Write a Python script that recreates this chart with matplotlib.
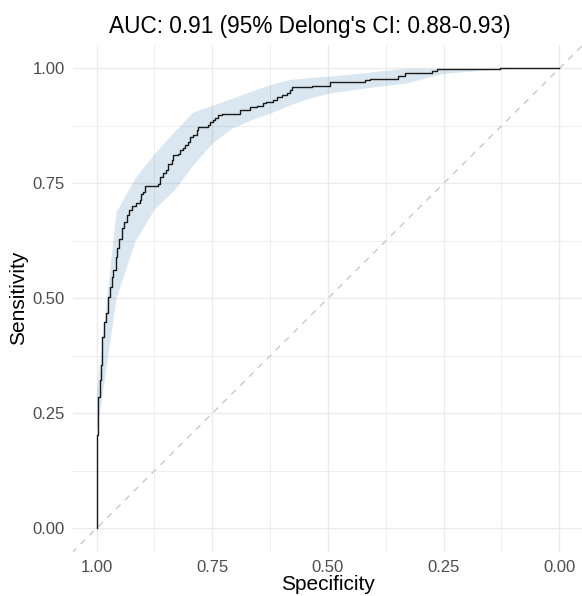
import matplotlib
matplotlib.use("Agg")
import matplotlib.pyplot as plt
import numpy as np

plt.rcParams['font.family'] = ['Liberation Sans', 'DejaVu Sans']

# ROC curve (step corners): specificity, sensitivity
spec = [1.0, 1.0, 0.9965, 0.9935, 0.9907, 0.9879, 0.9842, 0.9806, 0.9749, 0.9713,
        0.9676, 0.9641, 0.9583, 0.9555, 0.9518, 0.9460, 0.9410, 0.9352, 0.9296,
        0.9244, 0.914, 0.906, 0.903, 0.899, 0.896, 0.867, 0.863, 0.856, 0.849,
        0.845, 0.838, 0.834, 0.824, 0.820, 0.813, 0.809, 0.802, 0.798, 0.791,
        0.784, 0.780, 0.759, 0.755, 0.748, 0.744, 0.737, 0.730, 0.690, 0.669,
        0.654, 0.640, 0.633, 0.618, 0.611, 0.600, 0.589, 0.582, 0.577, 0.535,
        0.496, 0.420, 0.409, 0.348, 0.334, 0.276, 0.265, 0.129, 0.0]
sens = [0.0, 0.203, 0.286, 0.322, 0.355, 0.417, 0.449, 0.468, 0.503, 0.525,
        0.547, 0.561, 0.590, 0.609, 0.630, 0.652, 0.667, 0.681, 0.693,
        0.701, 0.707, 0.714, 0.728, 0.732, 0.744, 0.748, 0.764, 0.772, 0.779,
        0.793, 0.801, 0.812, 0.815, 0.822, 0.826, 0.833, 0.840, 0.851, 0.855,
        0.866, 0.873, 0.877, 0.884, 0.888, 0.893, 0.898, 0.902, 0.909, 0.917,
        0.918, 0.924, 0.927, 0.931, 0.937, 0.942, 0.947, 0.953, 0.959, 0.962,
        0.971, 0.975, 0.978, 0.984, 0.991, 0.994, 0.9985, 1.0, 1.0]

# 95% CI of sensitivity at fixed specificities
ci_spec = [1.0, 0.958, 0.917, 0.875, 0.833, 0.792, 0.750, 0.708, 0.667, 0.625,
           0.583, 0.542, 0.500, 0.458, 0.417, 0.375, 0.333, 0.292, 0.250, 0.208,
           0.167, 0.125, 0.083, 0.042, 0.0]
ci_lower = [0.21, 0.50, 0.625, 0.695, 0.735, 0.790, 0.838, 0.870, 0.888, 0.903,
            0.920, 0.935, 0.946, 0.952, 0.958, 0.963, 0.968, 0.979, 0.989, 0.993,
            0.996, 0.999, 1.0, 1.0, 1.0]
ci_upper = [0.30, 0.688, 0.762, 0.815, 0.862, 0.905, 0.920, 0.935, 0.950, 0.965,
            0.976, 0.980, 0.983, 0.987, 0.991, 0.996, 1.0, 1.0, 1.0, 1.0,
            1.0, 1.0, 1.0, 1.0, 1.0]

title = "AUC: 0.91 (95% Delong's CI: 0.88-0.93)"
ticks = [1.00, 0.75, 0.50, 0.25, 0.00]
tick_labels = ["1.00", "0.75", "0.50", "0.25", "0.00"]

W, H = 582, 596
fig = plt.figure(figsize=(W / 100, H / 100), dpi=100)
ax = fig.add_axes([73 / W, (H - 551.7) / H, (582 - 73) / W, (551.7 - 45) / H])

ax.set_xlim(1.051, -0.049)
ax.set_ylim(-0.051, 1.051)

# grid
for v in np.arange(-0.125, 1.126, 0.125):
    major = abs((v / 0.25) - round(v / 0.25)) < 1e-6
    lw = 1.0 if major else 0.6
    if 0 <= v <= 1 or not major:
        ax.axvline(v, color='#EBEBEB', lw=lw, zorder=0)
        ax.axhline(v, color='#EBEBEB', lw=lw, zorder=0)

ax.fill_between(ci_spec, ci_lower, ci_upper, color='#4682B4', alpha=0.2,
                lw=0, zorder=1)
ax.plot([1.2, -0.2], [-0.2, 1.2], color='#C4C4C4', lw=0.9, ls=(0, (5, 5)),
        zorder=2)
ax.plot(spec, sens, drawstyle='steps-post', color='#1A1A1A', lw=1.0, zorder=3)

for s in ax.spines.values():
    s.set_visible(False)
ax.set_xticks(ticks)
ax.set_xticklabels(tick_labels)
ax.set_yticks(ticks)
ax.set_yticklabels(tick_labels)
ax.tick_params(length=0, labelsize=12, colors='#4D4D4D', pad=6)

fig.text(0.5 * (73 + 582) / W, 1 - 585 / H, "Specificity", ha='center',
         va='center', fontsize=15, color='black')
fig.text(19 / W, 1 - 298 / H, "Sensitivity", ha='center', va='center',
         rotation=90, fontsize=15, color='black')
fig.text(310 / W, 1 - 26 / H, title, ha='center', va='center', fontsize=16.3,
         color='black')

fig.savefig("out.png", dpi=100)
